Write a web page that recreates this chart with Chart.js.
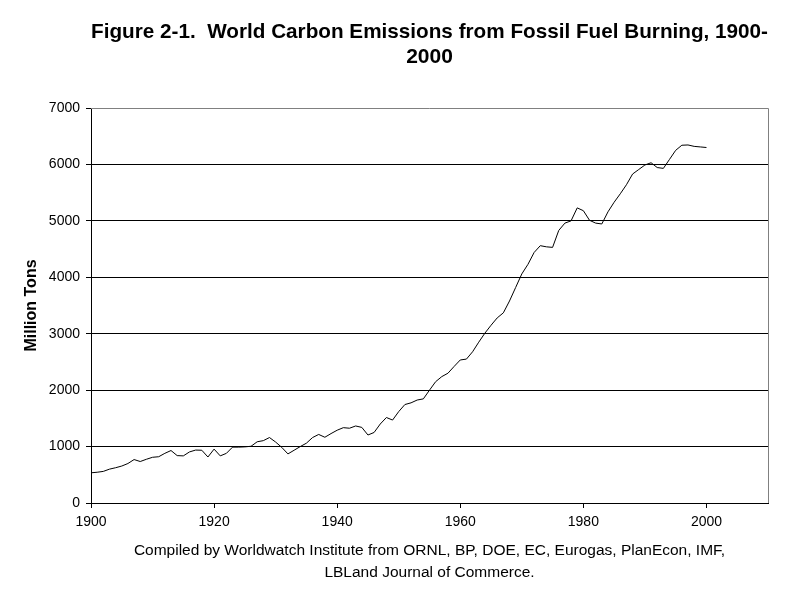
<!DOCTYPE html>
<html>
<head>
<meta charset="utf-8">
<script src="https://cdn.jsdelivr.net/npm/chart.js@4/dist/chart.umd.min.js"></script>
<style>
html,body{margin:0;padding:0;background:#fff;}
#wrap{width:800px;height:600px;}
</style>
</head>
<body>
<div id="wrap"><canvas id="c" width="800" height="600"></canvas></div>
<script>
const titleLines = ["Figure 2-1.  World Carbon Emissions from Fossil Fuel Burning, 1900-", "2000"];
const yAxisTitle = "Million Tons";
const sourceLines = ["Compiled by Worldwatch Institute from ORNL, BP, DOE, EC, Eurogas, PlanEcon, IMF,", "LBLand Journal of Commerce."];

const years = [
  1900,1901,1902,1903,1904,1905,1906,1907,1908,1909,
  1910,1911,1912,1913,1914,1915,1916,1917,1918,1919,
  1920,1921,1922,1923,1924,1925,1926,1927,1928,1929,
  1930,1931,1932,1933,1934,1935,1936,1937,1938,1939,
  1940,1941,1942,1943,1944,1945,1946,1947,1948,1949,
  1950,1951,1952,1953,1954,1955,1956,1957,1958,1959,
  1960,1961,1962,1963,1964,1965,1966,1967,1968,1969,
  1970,1971,1972,1973,1974,1975,1976,1977,1978,1979,
  1980,1981,1982,1983,1984,1985,1986,1987,1988,1989,
  1990,1991,1992,1993,1994,1995,1996,1997,1998,1999,
  2000
];
const emissions = [
  535, 545, 560, 600, 625, 655, 700, 770, 735, 775,
  810, 820, 880, 930, 840, 835, 905, 938, 935, 815,
  955, 835, 880, 990, 990, 995, 1005, 1085, 1105, 1160,
  1080, 985, 870, 935, 1000, 1060, 1160, 1215, 1165, 1230,
  1290, 1335, 1325, 1365, 1340, 1205, 1250, 1400, 1515, 1470,
  1620, 1745, 1775, 1825, 1845, 2000, 2150, 2240, 2300, 2420,
  2535, 2550, 2680, 2850, 3010, 3150, 3280, 3370, 3580, 3820,
  4060, 4230, 4440, 4560, 4540, 4530, 4830, 4960, 5000, 5230,
  5180, 5010, 4960, 4945, 5160, 5330, 5480, 5640, 5830, 5910,
  5990, 6030, 5945, 5930, 6090, 6250, 6340, 6345, 6320, 6310,
  6300
];
const xTickValues = [1900, 1920, 1940, 1960, 1980, 2000];
const yTickValues = [0, 1000, 2000, 3000, 4000, 5000, 6000, 7000];
const xMin = 1900, xMax = 2010, yMin = 0, yMax = 7000;

const FONT = "'Liberation Sans', Arial, sans-serif";

const points = years.map((yr, i) => ({x: yr, y: emissions[i]}));

const plotFrame = {
  id: 'plotFrame',
  beforeDatasetsDraw(chart) {
    const {ctx, chartArea: a} = chart;
    ctx.save();
    ctx.strokeStyle = '#808080';
    ctx.lineWidth = 1;
    ctx.beginPath();
    const t = Math.round(a.top) + 0.5, r = Math.round(a.right) + 0.5;
    ctx.moveTo(Math.round(a.left), t);
    ctx.lineTo(r, t);
    ctx.lineTo(r, Math.round(a.bottom));
    ctx.stroke();
    ctx.restore();
  }
};

new Chart(document.getElementById('c'), {
  type: 'line',
  data: {
    datasets: [{
      data: points,
      borderColor: '#000',
      borderWidth: 1,
      pointRadius: 0,
      tension: 0,
      fill: false
    }]
  },
  options: {
    responsive: false,
    animation: false,
    devicePixelRatio: 1,
    layout: {padding: {left: 0, right: 32, top: 0, bottom: 0}},
    plugins: {
      legend: {display: false},
      tooltip: {enabled: false},
      title: {
        display: true,
        fullSize: false,
        text: titleLines,
        color: '#000',
        font: {family: FONT, size: 21, weight: 'bold', lineHeight: '25px'},
        padding: {top: 19.5, bottom: 38.5}
      }
    },
    scales: {
      x: {
        type: 'linear',
        min: xMin, max: xMax,
        afterBuildTicks(axis) { axis.ticks = xTickValues.map(v => ({value: v})); },
        afterFit(scale) { scale.height = 97; },
        border: {color: '#000', width: 1},
        grid: {drawOnChartArea: false, tickColor: '#000', tickLength: 5, drawTicks: true},
        ticks: {color: '#000', font: {family: FONT, size: 14}, padding: 6, maxRotation: 0, autoSkip: false,
                callback: v => String(v)},
        title: {
          display: true,
          text: sourceLines,
          color: '#000',
          font: {family: FONT, size: 15.5, lineHeight: '22px'},
          padding: {top: 0, bottom: 16}
        }
      },
      y: {
        type: 'linear',
        min: yMin, max: yMax,
        afterBuildTicks(axis) { axis.ticks = yTickValues.map(v => ({value: v})); },
        afterFit(scale) { scale.width = 91; },
        border: {color: '#000', width: 1},
        grid: {
          color: c => (c.tick && (c.tick.value === yMin || c.tick.value === yMax)) ? 'rgba(0,0,0,0)' : '#000',
          tickColor: '#000', tickLength: 5, drawTicks: true
        },
        ticks: {color: '#000', font: {family: FONT, size: 14}, padding: 6, callback: v => String(v)},
        title: {
          display: true,
          text: yAxisTitle,
          color: '#000',
          font: {family: FONT, size: 16, weight: 'bold', lineHeight: 1.2},
          padding: {top: 21.5, bottom: 0}
        }
      }
    }
  },
  plugins: [plotFrame]
});
</script>
</body>
</html>
